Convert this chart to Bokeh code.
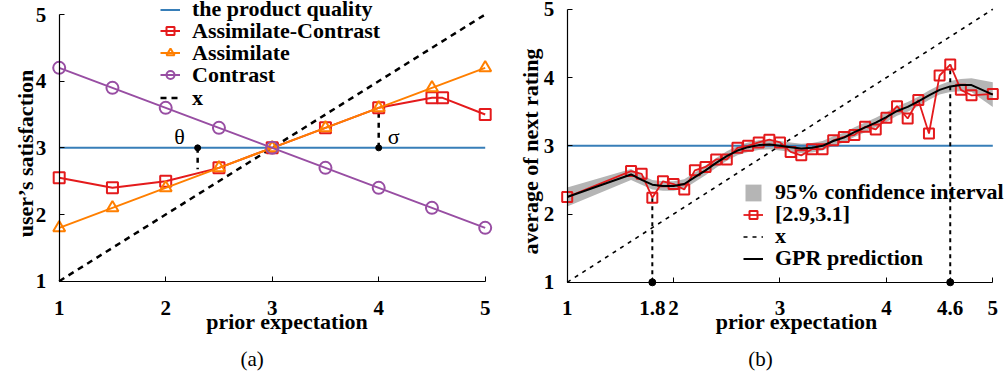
import math
from bokeh.plotting import figure
from bokeh.models import (Legend, LegendItem, Label, FixedTicker, CustomJSTickFormatter,
                          Range1d, LinearAxis)
from bokeh.layouts import row
from bokeh.embed import file_html
from bokeh.resources import INLINE

# ---------------- data: panel (a) ----------------
left_x = [1, 1.5, 2, 2.5, 3, 3.5, 4, 4.5, 5]
contrast_y = [4.2, 3.9, 3.6, 3.3, 3.0, 2.7, 2.4, 2.1, 1.8]
assimilate_y = [1.8, 2.1, 2.4, 2.7, 3.0, 3.3, 3.6, 3.9, 4.2]
ac_x = [1, 1.5, 2, 2.5, 3, 3.5, 4, 4.5, 4.6, 5]
ac_y = [2.55, 2.4, 2.5, 2.7, 3.0, 3.3, 3.6, 3.75, 3.75, 3.5]
quality_x = [1, 5]
quality_y = [3, 3]
diag = [1, 5]
theta_x = [2.3, 2.3]
theta_y = [3.0, 2.68]
sigma_x = [4, 4]
sigma_y = [3.0, 3.6]
left_ticks = [1, 2, 3, 4, 5]
y_ticks = [1, 2, 3, 4, 5]

# ---------------- data: panel (b) ----------------
rx = [1.0, 1.6, 1.7, 1.8, 1.9, 2.0, 2.1, 2.2, 2.3, 2.4, 2.5, 2.6, 2.7, 2.8, 2.9, 3.0,
      3.1, 3.2, 3.3, 3.4, 3.5, 3.6, 3.7, 3.8, 3.9, 4.0, 4.1, 4.2, 4.3, 4.4, 4.5, 4.6,
      4.7, 4.8, 5.0]
ry = [2.25, 2.63, 2.59, 2.24, 2.48, 2.44, 2.36, 2.64, 2.69, 2.80, 2.80, 2.97, 3.0, 3.05,
      3.09, 3.05, 2.91, 2.86, 2.95, 2.95, 3.08, 3.13, 3.16, 3.28, 3.24, 3.41, 3.58, 3.40,
      3.67, 3.18, 4.03, 4.19, 3.82, 3.74, 3.76]
gpr = [2.25, 2.58, 2.50, 2.43, 2.41, 2.41, 2.44, 2.54, 2.64, 2.75, 2.85, 2.93, 2.98, 3.01,
       3.02, 3.00, 2.98, 2.96, 2.97, 3.00, 3.07, 3.12, 3.20, 3.27, 3.34, 3.42, 3.51, 3.57,
       3.65, 3.74, 3.82, 3.87, 3.89, 3.89, 3.75]
ci_half = [0.14, 0.08, 0.07, 0.07, 0.07, 0.07, 0.07, 0.07, 0.07, 0.07, 0.07, 0.07, 0.07,
           0.07, 0.07, 0.07, 0.07, 0.07, 0.07, 0.07, 0.07, 0.07, 0.07, 0.07, 0.07, 0.07,
           0.07, 0.07, 0.07, 0.07, 0.07, 0.08, 0.09, 0.10, 0.18]
mark_x = [1.8, 4.6]
mark_y = [2.24, 4.19]
right_ticks = [1, 1.8, 2, 3, 4, 4.6, 5]

BLUE = "#377eb8"
RED = "#e41a1c"
ORANGE = "#ff7f00"
PURPLE = "#984ea3"
GREY = "#b5b5b5"
SERIF = "Liberation Serif"
H = 376


def make_axis(ticks, standoff):
    return LinearAxis(fixed_location=1, bounds=(1, 5), ticker=FixedTicker(ticks=ticks),
                      formatter=CustomJSTickFormatter(code="return tick.toString();"),
                      major_tick_in=5, major_tick_out=0, minor_tick_line_color=None,
                      axis_line_color="black", axis_line_width=1.2,
                      major_tick_line_color="black", major_label_standoff=standoff,
                      major_label_text_font=SERIF, major_label_text_font_style="bold",
                      major_label_text_font_size="21px", major_label_text_color="black")


def screen_label(p, text, x, y_from_top, size, bold=True, angle=0.0):
    p.add_layout(Label(x=x, y=H - y_from_top, x_units="screen", y_units="screen",
                       text=text, text_font=SERIF, text_font_size=size,
                       text_font_style="bold" if bold else "normal", angle=angle,
                       text_align="center", text_baseline="alphabetic",
                       text_color="black"))


def base_fig(width, xr, yr):
    p = figure(width=width, height=H, x_range=Range1d(*xr), y_range=Range1d(*yr),
               output_backend="svg", toolbar_location=None, title=None,
               x_axis_location=None, y_axis_location=None,
               min_border_left=0, min_border_right=0, min_border_top=0,
               min_border_bottom=0)
    p.grid.visible = False
    p.outline_line_color = None
    return p


def add_legends(p, entries, vx, centers):
    for (label, rends), c in zip(entries, centers):
        lg = Legend(items=[LegendItem(label=label, renderers=rends)],
                    location=(vx, H - c - 13))
        lg.background_fill_alpha = 0
        lg.border_line_color = None
        lg.padding = 0
        lg.margin = 0
        lg.spacing = 0
        lg.glyph_width = 20
        lg.glyph_height = 21
        lg.label_height = 21
        lg.label_standoff = 12
        lg.label_text_font = SERIF
        lg.label_text_font_style = "bold"
        lg.label_text_font_size = "22px"
        lg.label_text_color = "black"
        p.add_layout(lg)


# ---------------- panel (a) ----------------
p1 = base_fig(503, (0.4488, 5.1718), (-0.4293, 5.21))
p1.add_layout(make_axis(left_ticks, 20), "below")
p1.add_layout(make_axis(y_ticks, 13), "left")

r_q = p1.line(quality_x, quality_y, line_color=BLUE, line_width=2)
r_x = p1.line(diag, diag, line_color="black", line_width=2.5, line_dash="6 5")
p1.line(theta_x, theta_y, line_color="black", line_width=2.5, line_dash="5 5")
p1.line(sigma_x, sigma_y, line_color="black", line_width=2.5, line_dash="5 5")
p1.scatter([theta_x[0], sigma_x[0]], [theta_y[0], sigma_y[0]], size=6, color="black")

r_acl = p1.line(ac_x, ac_y, line_color=RED, line_width=2)
r_acm = p1.scatter(ac_x, ac_y, marker="square", size=11, line_color=RED, line_width=2,
                   fill_color=None)
r_al = p1.line(left_x, assimilate_y, line_color=ORANGE, line_width=2)
r_am = p1.scatter(left_x, assimilate_y, marker="triangle", size=12, line_color=ORANGE,
                  line_width=2, fill_color=None)
r_cl = p1.line(left_x, contrast_y, line_color=PURPLE, line_width=2)
r_cm = p1.scatter(left_x, contrast_y, marker="circle", size=12, line_color=PURPLE,
                  line_width=2, fill_color=None)

p1.add_layout(Label(x=2.13, y=3.175, text="\u03b8", text_font=SERIF, text_font_size="22px",
                    text_align="center", text_baseline="middle", text_color="black"))
p1.add_layout(Label(x=4.14, y=3.175, text="\u03c3", text_font=SERIF, text_font_size="22px",
                    text_align="center", text_baseline="middle", text_color="black"))

screen_label(p1, "prior expectation", 286.7, 320.5, "22px")
screen_label(p1, "user\u2019s satisfaction", 25, 153, "22px", angle=math.pi / 2)
screen_label(p1, "(a)", 251.7, 358.5, "21px", bold=False)

add_legends(p1, [
    ("the product quality", [r_q]),
    ("Assimilate-Contrast", [r_acl, r_acm]),
    ("Assimilate", [r_al, r_am]),
    ("Contrast", [r_cl, r_cm]),
    ("x", [r_x]),
], 160, [9, 30.5, 52.5, 74.5, 97.5])

# ---------------- panel (b) ----------------
p2 = base_fig(504, (0.4013, 5.1382), (-0.3802, 5.1289))
p2.add_layout(make_axis(right_ticks, 19), "below")
p2.add_layout(make_axis(y_ticks, 13), "left")

lo = [g - h for g, h in zip(gpr, ci_half)]
hi = [g + h for g, h in zip(gpr, ci_half)]
r_ci = p2.varea(x=rx, y1=lo, y2=hi, fill_color=GREY, fill_alpha=1)
p2.line(quality_x, quality_y, line_color=BLUE, line_width=2)
r_x2 = p2.line(diag, diag, line_color="black", line_width=1.6, line_dash="4 5")
p2.segment(x0=mark_x, y0=[1, 1], x1=mark_x, y1=mark_y, line_color="black", line_width=2,
           line_dash="4 4")
p2.scatter(mark_x, [1, 1], size=7, color="black")
r_rl = p2.line(rx, ry, line_color=RED, line_width=1.8)
r_rm = p2.scatter(rx, ry, marker="square", size=10, line_color=RED, line_width=2,
                  fill_color=None)
r_g = p2.line(rx, gpr, line_color="black", line_width=2)

screen_label(p2, "prior expectation", 293.3, 320.5, "22px")
screen_label(p2, "average of next rating", 27, 151, "22px", angle=math.pi / 2)
screen_label(p2, "(b)", 257, 358.5, "21px", bold=False)

add_legends(p2, [
    ("95% confidence interval", [r_ci]),
    ("[2.9,3.1]", [r_rl, r_rm]),
    ("x", [r_x2]),
    ("GPR prediction", [r_g]),
], 240, [192, 214, 236, 258])

layout = row(p1, p2)
open("out.html", "w").write(file_html(layout, INLINE))
